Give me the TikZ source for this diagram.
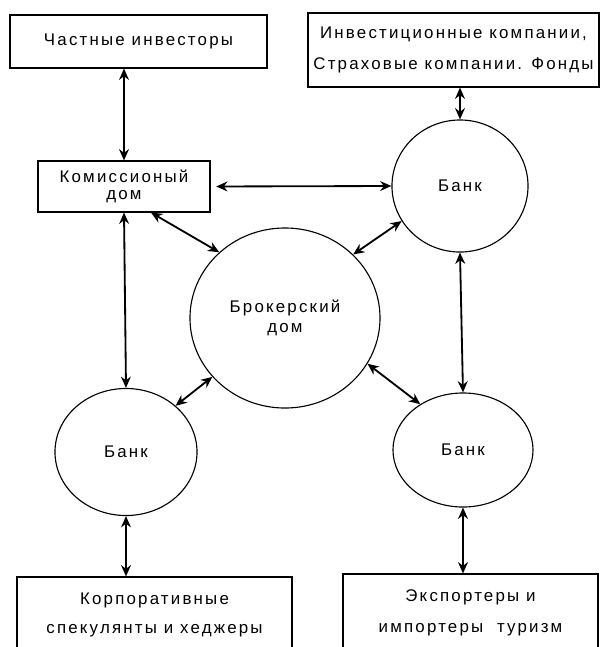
\documentclass[tikz,border=0pt]{standalone}
\usepackage{fontspec}
\setmainfont{Liberation Sans}[LetterSpace=13]
\usetikzlibrary{shapes.geometric,arrows.meta}

\begin{document}
\begin{tikzpicture}[x=0.025cm,y=-0.025cm,
  font=\fontsize{12}{14}\selectfont,
  box/.style={rectangle,draw,line width=0.8pt,inner sep=0pt,align=center},
  bank/.style={ellipse,draw,line width=0.8pt,inner sep=0pt,align=center},
  link/.style={{Stealth[length=8pt,width=7pt]}-{Stealth[length=8pt,width=7pt]},line width=1.3pt}]
\useasboundingbox (0,0) rectangle (601,647);
\clip (0,0) rectangle (601,647);
% boxes
\node at (138.5,41.5) [box,minimum width=6.425cm,minimum height=1.325cm] (investors) {Частные инвесторы};
\node at (453.5,50) [box,minimum width=7.275cm,minimum height=1.85cm] (funds) {Инвестиционные компании,\\[8.5pt]Страховые компании. Фонды};
\node at (124,186.5) [box,minimum width=4.3cm,minimum height=1.275cm] (commission) {Комиссионый\\[-1.5pt]дом};
\node at (154.5,615) [box,minimum width=6.875cm,minimum height=1.9cm] (corporate) {Корпоративные\\[7pt]спекулянты и хеджеры};
\node at (470.5,613) [box,minimum width=6.375cm,minimum height=1.95cm] (exporters) {Экспортеры и\\[8pt]импортеры \ туризм};
% circles
\node at (285,318) [bank,minimum width=4.75cm,minimum height=4.5cm] (broker) {Брокерский\\дом};
\node at (460,186) [bank,minimum width=3.4cm,minimum height=3.3cm] (banktop) {Банк};
\node at (126,452) [bank,minimum width=3.55cm,minimum height=3.175cm] (bankleft) {Банк};
\node at (463,450) [bank,minimum width=3.5cm,minimum height=2.85cm] (bankright) {Банк};
% links
\draw[link] (commission.north) -- (commission.north |- investors.south);
\draw[link, shorten <=4pt] (commission.east) -- (banktop.west);
\draw[link] (commission.-44) -- (broker.135);
\draw[link] (commission.south) -- (bankleft.north);
\draw[link] (banktop.north) -- (banktop.north |- funds.south);
\draw[link] (broker.43) -- (banktop.211);
\draw[link] (broker.219) -- (bankleft.43);
\draw[link] (broker.-29) -- (bankright.133);
\draw[link] (banktop.south) -- (bankright.north);
\draw[link] (bankleft.south) -- (bankleft.south |- corporate.north);
\draw[link] (bankright.south) -- (bankright.south |- exporters.north);
\end{tikzpicture}
\end{document}
